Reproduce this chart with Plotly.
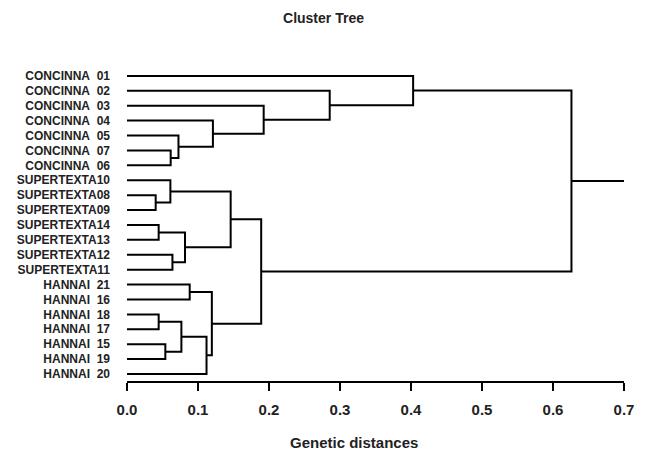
import plotly.graph_objects as go

# ---- data ----
leaf_labels = [
    "CONCINNA\u00a0\u00a001", "CONCINNA\u00a0\u00a002", "CONCINNA\u00a0\u00a003",
    "CONCINNA\u00a0\u00a004", "CONCINNA\u00a0\u00a005", "CONCINNA\u00a0\u00a007",
    "CONCINNA\u00a0\u00a006",
    "SUPERTEXTA10", "SUPERTEXTA08", "SUPERTEXTA09", "SUPERTEXTA14",
    "SUPERTEXTA13", "SUPERTEXTA12", "SUPERTEXTA11",
    "HANNAI\u00a0\u00a021", "HANNAI\u00a0\u00a016", "HANNAI\u00a0\u00a018",
    "HANNAI\u00a0\u00a017", "HANNAI\u00a0\u00a015", "HANNAI\u00a0\u00a019",
    "HANNAI\u00a0\u00a020",
]
# merges: children are leaf indices ("L#") or previous merge names ("M#")
merge_names  = ["M1", "M2", "M3", "M4", "M5", "M6", "M7", "M8", "M9", "M10",
                "M11", "M12", "M13", "M14", "M15", "M16", "M17", "M18", "M19", "M20"]
merge_left   = ["L5", "L4", "L3", "L2", "L1", "L0", "L8", "L7", "L10", "L12",
                "M9", "M8", "L14", "L16", "L18", "M14", "M16", "M13", "M12", "M6"]
merge_right  = ["L6", "M1", "M2", "M3", "M4", "M5", "L9", "M7", "L11", "L13",
                "M10", "M11", "L15", "L17", "L19", "M15", "L20", "M17", "M18", "M19"]
merge_height = [0.0615, 0.0725, 0.121, 0.1925, 0.2855, 0.403, 0.0404, 0.0611,
                0.0446, 0.064, 0.0817, 0.146, 0.0883, 0.0446, 0.054, 0.0766,
                0.112, 0.1195, 0.189, 0.626]
root_stub_end = 0.7
x_ticks = [0.0, 0.1, 0.2, 0.3, 0.4, 0.5, 0.6, 0.7]

# ---- compute node positions ----
pos = {}
for i, _ in enumerate(leaf_labels):
    pos["L%d" % i] = (0.0, float(i))

xs, ys = [], []
for name, a, b, h in zip(merge_names, merge_left, merge_right, merge_height):
    xa, ya = pos[a]
    xb, yb = pos[b]
    xs += [xa, h, h, xb, None]
    ys += [ya, ya, yb, yb, None]
    pos[name] = (h, (ya + yb) / 2.0)

rx, ry = pos[merge_names[-1]]
xs += [rx, root_stub_end, None]
ys += [ry, ry, None]

fig = go.Figure()
fig.add_trace(go.Scatter(
    x=xs, y=ys, mode="lines",
    line=dict(color="black", width=2),
    hoverinfo="skip", showlegend=False,
))

# page has an 8px body margin; figure coordinates are page coordinates - 8
W, H = 630, 443
ML, MR, MT, MB = 119, 14, 60, 70
FONT = "Arial, Liberation Sans, sans-serif"
fig.update_layout(
    width=W, height=H,
    margin=dict(l=ML, r=MR, t=MT, b=MB, autoexpand=False),
    paper_bgcolor="white", plot_bgcolor="white",
    title=dict(text="Cluster Tree", x=315.5 / W, xref="container", xanchor="center",
               y=1 - 10 / H, yref="container", yanchor="middle",
               font=dict(family=FONT, size=14, color="#222", weight="bold")),
    xaxis=dict(
        range=[0, 0.7], tickvals=x_ticks, ticktext=["%.1f" % v for v in x_ticks],
        ticks="outside", ticklen=8, tickwidth=2, tickcolor="black",
        showline=True, linewidth=2, linecolor="black",
        showgrid=False, zeroline=False, ticklabelstandoff=6,
        tickfont=dict(family=FONT, size=15, color="#222", weight="bold"),
    ),
    yaxis=dict(
        range=[20.47, -0.53], tickvals=list(range(len(leaf_labels))), ticktext=leaf_labels,
        ticks="", showline=False, showgrid=False, zeroline=False,
        ticklabelstandoff=16,
        tickfont=dict(family=FONT, size=12, color="#222", weight="bold"),
    ),
    annotations=[dict(
        text="Genetic distances",
        x=(345.5 - ML) / (W - ML - MR), xref="paper",
        y=(H - MB - 435) / (H - MT - MB), yref="paper", yanchor="middle",
        showarrow=False, font=dict(family=FONT, size=15, color="#222", weight="bold"),
    )],
)

fig.write_html("out.html")
